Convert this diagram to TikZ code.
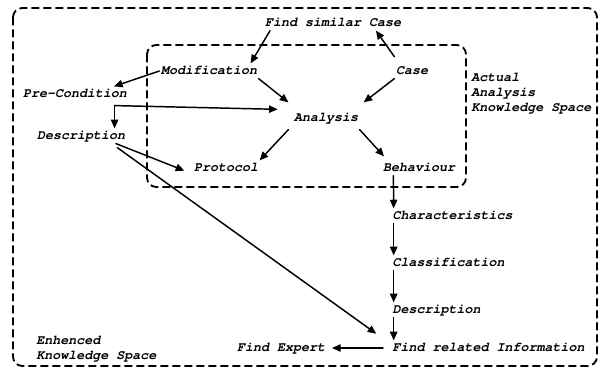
\documentclass[tikz,border=0pt]{standalone}
\usetikzlibrary{arrows.meta}

\begin{document}
\begin{tikzpicture}[line cap=round,line join=round,>={Triangle[length=6.5pt,width=5.5pt]},x=0.75pt,y=-0.75pt,
  txt/.style={font=\fontencoding{T1}\fontfamily{pcr}\fontseries{b}\fontshape{sl}\fontsize{10}{11}\selectfont},
  lbl/.style={txt, inner sep=1pt, text height=7pt, text depth=2pt},
  space/.style={dash pattern=on 6pt off 3pt, line cap=butt, line width=1.4pt, rounded corners=7pt},
  arr/.style={->, line width=1.1pt}]
\useasboundingbox (0,0) rectangle (600,368);
%spaces
\draw[space] (13,8) rectangle (597,366);%enhenced
\draw[space] (147,45) rectangle (466,187);%actual
\node[txt, anchor=north west, align=left, inner sep=0pt] at (471,73) (actual) {Actual\\Analysis\\Knowledge Space};
\node[txt, anchor=north west, align=left, inner sep=0pt] at (36,336) (enh) {Enhenced\\Knowledge Space};
%labels
\node[lbl] at (333,23)   (findsim) {Find similar Case};
\node[lbl] at (209,71)   (modif) {Modification};
\node[lbl] at (412,71)   (case) {Case};
\node[lbl] at (75,94)    (precond) {Pre-Condition};
\node[lbl] at (326,118)  (anal) {Analysis};
\node[lbl] at (81,136)   (desc) {Description};
\node[lbl] at (226,168)  (prot) {Protocol};
\node[lbl] at (419,168)  (behav) {Behaviour};
\node[lbl, anchor=west] at (391,216) (charac) {Characteristics};
\node[lbl, anchor=west] at (391,263) (classif) {Classification};
\node[lbl, anchor=west] at (391,310) (descb) {Description};
\node[lbl, anchor=west] at (391,348) (findrel) {Find related Information};
\node[lbl] at (281,348)  (findexp) {Find Expert};
\coordinate (split) at ([xshift=-10.5pt,yshift=-3pt]precond.south east);
%%%arrows top
\draw[arr] ([xshift=5pt]findsim.south west) -- ([xshift=-6pt]modif.north east);
\draw[arr] ([yshift=5pt]case.north west) -- ([xshift=-20pt]findsim.south east);
\draw[arr] (modif.west) -- ([xshift=-11pt]precond.north east);
\draw[arr] (modif.south east) -- ([shift={(-3pt,6pt)}]anal.north west);
\draw[arr] (case.south west) -- ([shift={(3pt,6pt)}]anal.north east);
%%%pre-condition split
\draw[arr] (split) -- ([shift={(-11pt,6.5pt)}]anal.west);
\draw[arr] (split) -- (split |- desc.north);
%%%analysis down
\draw[arr] ([shift={(-3pt,-3pt)}]anal.south west) -- (prot.north east);
\draw[arr] ([yshift=-3pt]anal.south east) -- ([shift={(2pt,3pt)}]behav.north west);
%%%description
\draw[arr] ([xshift=-8pt]desc.south east) -- ([shift={(-6pt,-2pt)}]prot.west);
\draw[arr] ([shift={(-7pt,-3pt)}]desc.south east) -- ([shift={(-11pt,5pt)}]findrel.north west);
%%%chain
\draw[arr] ([xshift=9pt]behav.south west) -- ([xshift=2pt]charac.north west);
\draw[arr] ([xshift=2pt]charac.south west) -- ([xshift=2pt]classif.north west);
\draw[arr] ([xshift=2pt]classif.south west) -- ([xshift=2pt]descb.north west);
\draw[arr] ([xshift=2pt]descb.south west) -- ([xshift=2pt]findrel.north west);
\draw[arr] ([xshift=-6pt]findrel.west) -- ([xshift=4pt]findexp.east);
\end{tikzpicture}
\end{document}
